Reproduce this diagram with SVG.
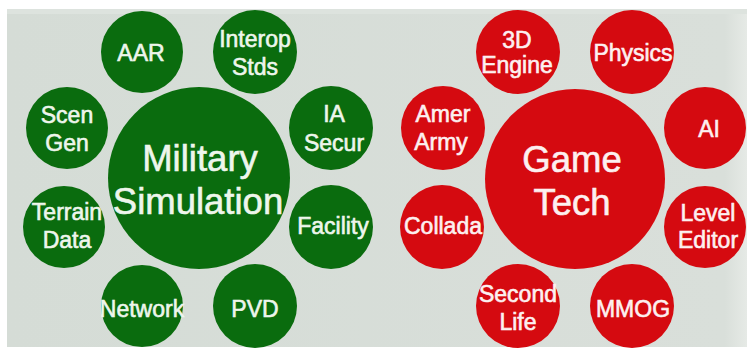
<svg xmlns="http://www.w3.org/2000/svg" width="747" height="351" viewBox="0 0 747 351">
<defs>
<linearGradient id="bg" x1="0" y1="0" x2="1" y2="0">
<stop offset="0" stop-color="#d5dcd6"/>
<stop offset="0.97" stop-color="#d9dfda"/>
<stop offset="1" stop-color="#e6eae6"/>
</linearGradient>
<style>
.g{fill:#0a6c0e}
.r{fill:#d50a10}
text{font-family:"Liberation Sans",Arial,Helvetica,sans-serif;text-anchor:middle;stroke-width:0.6}
.tg{fill:#eef6ec;stroke:#eef6ec}
.tr{fill:#fdf0f0;stroke:#fdf0f0}
.s{font-size:23px}
.b{font-size:36.5px}
</style>
</defs>
<rect x="0" y="0" width="747" height="351" fill="#ffffff"/>
<rect x="7" y="9" width="740" height="338" fill="url(#bg)"/>
<rect x="7" y="9" width="740" height="5" fill="#dde3de"/>

<g id="military-simulation"><circle class="g" cx="199" cy="178" r="91"/><text class="tg b" x="200" y="171">Military</text><text class="tg b" x="198" y="214">Simulation</text></g>
<g id="aar"><circle class="g" cx="142" cy="52" r="41"/><text class="tg s" x="141" y="61">AAR</text></g>
<g id="interop-stds"><circle class="g" cx="255" cy="52" r="42"/><text class="tg s" x="255" y="47">Interop</text><text class="tg s" x="255" y="75">Stds</text></g>
<g id="scen-gen"><circle class="g" cx="67" cy="128" r="41"/><text class="tg s" x="67" y="123">Scen</text><text class="tg s" x="67" y="151">Gen</text></g>
<g id="ia-secur"><circle class="g" cx="331" cy="128" r="42"/><text class="tg s" x="334" y="122">IA</text><text class="tg s" x="334" y="151">Secur</text></g>
<g id="terrain-data"><circle class="g" cx="64" cy="227" r="41"/><text class="tg s" x="67" y="220">Terrain</text><text class="tg s" x="67" y="248">Data</text></g>
<g id="facility"><circle class="g" cx="331" cy="227" r="42"/><text class="tg s" x="333" y="234">Facility</text></g>
<g id="network"><circle class="g" cx="142" cy="306" r="41"/><text class="tg s" x="142" y="317">Network</text></g>
<g id="pvd"><circle class="g" cx="255" cy="306" r="42"/><text class="tg s" x="255" y="317">PVD</text></g>

<g id="game-tech"><circle class="r" cx="575" cy="179" r="90"/><text class="tr b" x="572" y="172">Game</text><text class="tr b" x="572" y="215">Tech</text></g>
<g id="3d-engine"><circle class="r" cx="518" cy="52" r="42"/><text class="tr s" x="517" y="48">3D</text><text class="tr s" x="517" y="73">Engine</text></g>
<g id="physics"><circle class="r" cx="632" cy="52" r="42"/><text class="tr s" x="633" y="61">Physics</text></g>
<g id="amer-army"><circle class="r" cx="443" cy="128" r="42"/><text class="tr s" x="443" y="122">Amer</text><text class="tr s" x="441" y="150">Army</text></g>
<g id="ai"><circle class="r" cx="705" cy="128" r="41"/><text class="tr s" x="709" y="137">AI</text></g>
<g id="collada"><circle class="r" cx="442" cy="227" r="42"/><text class="tr s" x="443" y="234">Collada</text></g>
<g id="level-editor"><circle class="r" cx="705" cy="227" r="41"/><text class="tr s" x="708" y="221">Level</text><text class="tr s" x="708" y="248">Editor</text></g>
<g id="second-life"><circle class="r" cx="518" cy="306" r="42"/><text class="tr s" x="518" y="302">Second</text><text class="tr s" x="518" y="330">Life</text></g>
<g id="mmog"><circle class="r" cx="632" cy="306" r="42"/><text class="tr s" x="633" y="317">MMOG</text></g>
</svg>
